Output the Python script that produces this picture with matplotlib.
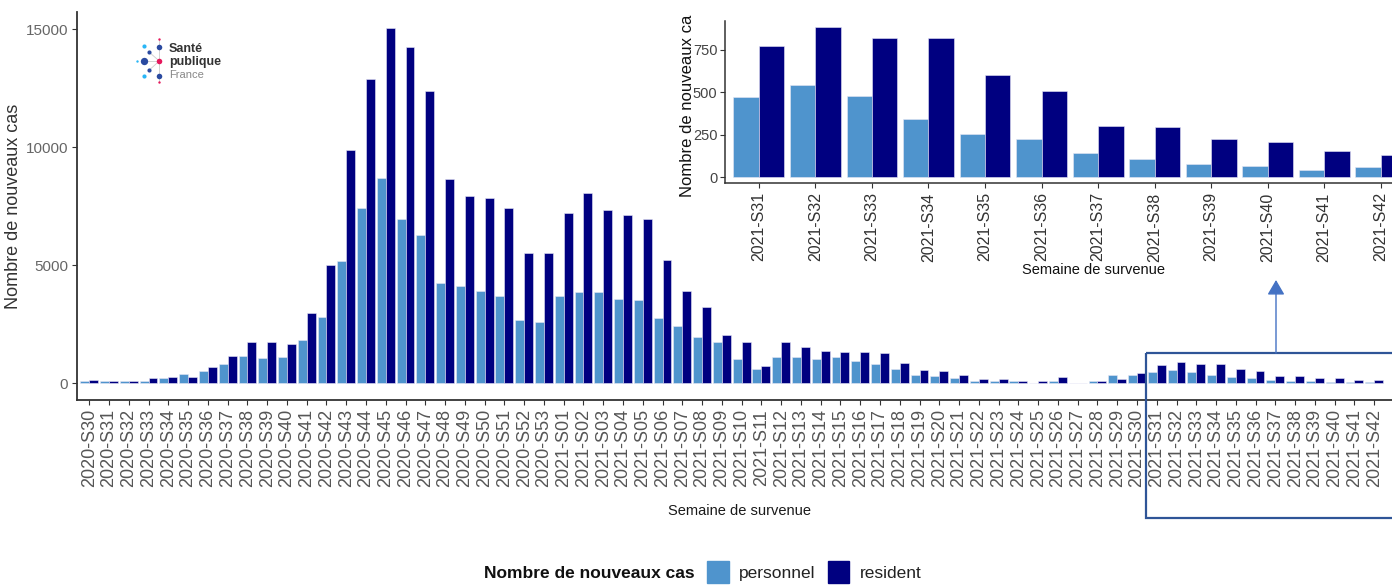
import matplotlib.pyplot as plt
import numpy as np
from matplotlib.patches import Rectangle, Patch
from matplotlib.transforms import Bbox, TransformedBbox

plt.rcParams['font.family'] = ['Liberation Sans', 'DejaVu Sans']

weeks = [f'2020-S{w:02d}' for w in range(30, 54)] + [f'2021-S{w:02d}' for w in range(1, 43)]

personnel = [100, 90, 90, 100, 210, 400, 500, 800, 1150, 1060, 1120, 1840, 2810, 5180, 7420, 8680,
             6980, 6300, 4230, 4110, 3930, 3720, 2690, 2580,
             3720, 3870, 3870, 3570, 3550, 2780, 2440, 1950, 1730, 1035, 620, 1130, 1100, 1035, 1130,
             960, 810, 600, 355, 325, 240, 100, 100, 100, 20, 100, 10, 100, 340, 355,
             470, 545, 480, 345, 255, 225, 145, 105, 80, 65, 45, 60]
resident = [140, 90, 90, 210, 280, 280, 680, 1150, 1760, 1740, 1660, 2980, 5000, 9880, 12880, 15060,
            14240, 12370, 8650, 7940, 7860, 7420, 5500, 5500,
            7230, 8080, 7330, 7150, 6960, 5240, 3930, 3220, 2040, 1730, 750, 1730, 1545, 1360, 1330,
            1330, 1300, 850, 550, 540, 370, 200, 185, 100, 100, 255, 20, 100, 185, 425,
            775, 885, 820, 820, 600, 505, 300, 295, 225, 205, 155, 130]

zoom_from = '2021-S31'

col_pers = '#4F94CD'
col_res = '#000080'
W, H = 1392, 587


def box(x0, y0, x1, y1):
    return [x0 / W, 1 - y1 / H, (x1 - x0) / W, (y1 - y0) / H]


def style(a, lw):
    for s in ['top', 'right']:
        a.spines[s].set_visible(False)
    for s in ['left', 'bottom']:
        a.spines[s].set_color('#333333')
        a.spines[s].set_linewidth(lw)


fig = plt.figure(figsize=(W / 100, H / 100), dpi=100)

# main chart
ax = fig.add_axes(box(77, 12, 1392, 400))
x = np.arange(len(weeks))
bw = 0.45
ax.bar(x - bw / 2, personnel, bw, color=col_pers, edgecolor='#e6e6f5', linewidth=0.4)
ax.bar(x + bw / 2, resident, bw, color=col_res, edgecolor='#e6e6f5', linewidth=0.4)
ax.set_xlim(-0.62, 65.9)
ax.set_ylim(-708, 15733)
ax.set_yticks([0, 5000, 10000, 15000])
ax.set_xticks(x)
ax.set_xticklabels(weeks, rotation=90)
ax.tick_params(axis='x', labelsize=13, labelcolor='#555555', color='#333333', length=3.5, pad=3)
ax.tick_params(axis='y', labelsize=11, labelcolor='#666666', color='#333333', length=3.5, pad=3)
style(ax, 1.3)
ax.set_ylabel('Nombre de nouveaux cas', fontsize=13, color='#333333')
ax.yaxis.set_label_coords(-0.042, 0.5)
ax.set_xlabel('Semaine de survenue', fontsize=10.5, color='#1a1a1a')
ax.xaxis.set_label_coords(0.504, -0.268)

# inset zoom
i0 = weeks.index(zoom_from)
ax2 = fig.add_axes(box(725, 20.7, 1392, 183.3), facecolor='white')
xs = np.arange(len(weeks) - i0)
ax2.bar(xs - bw / 2, personnel[i0:], bw, color=col_pers, edgecolor='#e6e6f5', linewidth=0.4)
ax2.bar(xs + bw / 2, resident[i0:], bw, color=col_res, edgecolor='#e6e6f5', linewidth=0.4)
ax2.set_xlim(-0.6, 11.2)
ax2.set_ylim(-36, 922)
ax2.set_yticks([0, 250, 500, 750])
ax2.set_xticks(xs)
ax2.set_xticklabels(weeks[i0:], rotation=90)
ax2.tick_params(axis='x', labelsize=11.5, labelcolor='#333333', color='#333333', length=3.5, pad=3)
ax2.tick_params(axis='y', labelsize=10.5, labelcolor='#444444', color='#333333', length=3.5, pad=2)
style(ax2, 1.1)
lbl = ax2.set_ylabel('Nombre de nouveaux cas', fontsize=12, color='#111111')
ax2.yaxis.set_label_coords(-0.045, 0.5)
lbl.set_clip_box(TransformedBbox(Bbox([[0, 0], [1, 1 - 15 / H]]), fig.transFigure))
lbl.set_clip_on(True)
ax2.set_xlabel('Semaine de survenue', fontsize=10.5, color='#111111')
ax2.xaxis.set_label_coords(0.553, -0.49)

# overlay for highlight box, arrow and logo
ov = fig.add_axes([0, 0, 1, 1])
ov.set_xlim(0, W)
ov.set_ylim(H, 0)
ov.axis('off')
ov.add_patch(Rectangle((1146, 353), 270, 165, fill=False, ec='#2F5597', lw=1.6))
ov.annotate('', xy=(1276, 280), xytext=(1276, 353),
            arrowprops=dict(arrowstyle='-|>,head_length=0.6,head_width=0.35', color='#4472C4',
                            lw=1, mutation_scale=15, shrinkA=0, shrinkB=0))

cyan, dblue, pink = '#29B6F6', '#2A4AA0', '#E6175C'
for (x0, y0), (x1, y1) in [((159.3, 39), (159.3, 82)), ((144, 61), (159.3, 61)),
                           ((149.3, 52.3), (159.3, 61)), ((149.3, 70), (159.3, 61))]:
    ov.plot([x0, x1], [y0, y1], color='#cccccc', lw=0.6, zorder=1)
dots = [(136.7, 61, 3, cyan), (144, 46, 9, cyan), (144, 61, 28, dblue), (144, 76, 9, cyan),
        (149.3, 52.3, 9, dblue), (149.3, 70, 9, dblue), (159.3, 39.3, 3, pink),
        (159.3, 46.7, 16, dblue), (159.3, 61, 16, pink), (159.3, 76, 16, dblue), (159.3, 82, 3, pink)]
for dx, dy, s, c in dots:
    ov.scatter(dx, dy, s=s, color=c, zorder=2, linewidths=0)
ov.text(169, 49.3, 'Santé', fontsize=9, fontweight='bold', color='#333333', va='center')
ov.text(169, 61.7, 'publique', fontsize=9, fontweight='bold', color='#333333', va='center')
ov.text(169, 75, 'France', fontsize=8, color='#888888', va='center')

# legend
fig.text(695 / W, 1 - 573 / H, 'Nombre de nouveaux cas', ha='right', va='center',
         fontsize=12.5, fontweight='bold', color='#111111')
handles = [Patch(color=col_pers, label='personnel'), Patch(color=col_res, label='resident')]
leg = fig.legend(handles=handles, ncol=2, frameon=False, loc='center left',
                 bbox_to_anchor=(707 / W, 1 - 572 / H), fontsize=12.5, handlelength=1.25,
                 handleheight=1.6, handletextpad=0.6, columnspacing=0.7, borderpad=0,
                 borderaxespad=0)
for t in leg.get_texts():
    t.set_color('#222222')

fig.savefig('out.png', dpi=100)
